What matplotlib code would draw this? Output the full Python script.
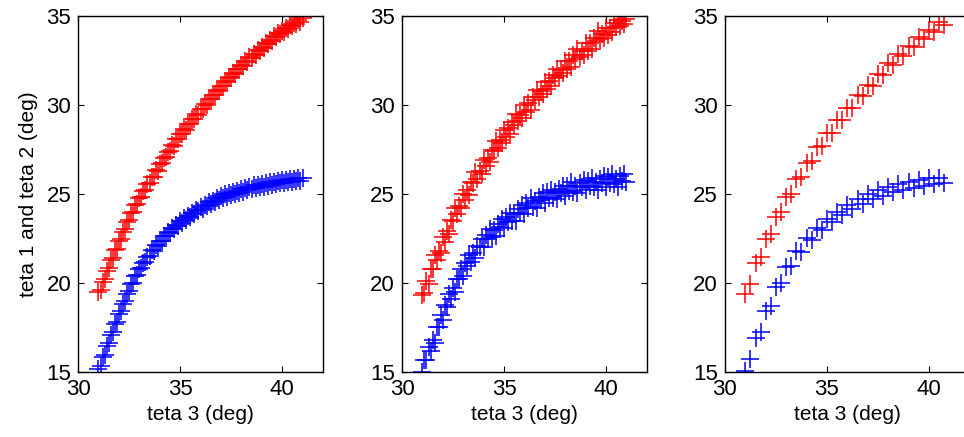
"""Three panels of teta 1 / teta 2 against teta 3, plus markers."""

import matplotlib
matplotlib.use("Agg")
import matplotlib.pyplot as plt

plt.rcParams["font.family"] = ["Liberation Sans", "DejaVu Sans"]

# dense runs (panels 1 and 2), teta 3 every 0.1 deg
teta3_dense = [31.0, 31.1, 31.2, 31.3, 31.4, 31.5, 31.6, 31.7, 31.8, 31.9,
               32.0, 32.1, 32.2, 32.3, 32.4, 32.5, 32.6, 32.7, 32.8, 32.9,
               33.0, 33.1, 33.2, 33.3, 33.4, 33.5, 33.6, 33.7, 33.8, 33.9,
               34.0, 34.1, 34.2, 34.3, 34.4, 34.5, 34.6, 34.7, 34.8, 34.9,
               35.0, 35.1, 35.2, 35.3, 35.4, 35.5, 35.6, 35.7, 35.8, 35.9,
               36.0, 36.1, 36.2, 36.3, 36.4, 36.5, 36.6, 36.7, 36.8, 36.9,
               37.0, 37.1, 37.2, 37.3, 37.4, 37.5, 37.6, 37.7, 37.8, 37.9,
               38.0, 38.1, 38.2, 38.3, 38.4, 38.5, 38.6, 38.7, 38.8, 38.9,
               39.0, 39.1, 39.2, 39.3, 39.4, 39.5, 39.6, 39.7, 39.8, 39.9,
               40.0, 40.1, 40.2, 40.3, 40.4, 40.5, 40.6, 40.7, 40.8, 40.9,
               41.0]

teta1_run1 = [19.48, 19.62, 20.08, 20.22, 20.68, 20.82, 21.28, 21.42, 21.83, 21.92,
              22.38, 22.47, 22.88, 23.02, 23.43, 23.52, 23.93, 23.97, 24.38, 24.42,
              24.78, 24.82, 25.18, 25.22, 25.58, 25.62, 25.98, 25.97, 26.33, 26.32,
              26.68, 26.72, 27.03, 27.07, 27.38, 27.42, 27.73, 27.72, 28.08, 28.07,
              28.38, 28.37, 28.68, 28.62, 28.93, 28.92, 29.23, 29.22, 29.48, 29.47,
              29.78, 29.77, 30.08, 30.02, 30.33, 30.32, 30.58, 30.57, 30.83, 30.82,
              31.08, 31.07, 31.33, 31.32, 31.58, 31.52, 31.78, 31.77, 32.03, 32.02,
              32.28, 32.22, 32.48, 32.42, 32.68, 32.62, 32.88, 32.82, 33.08, 33.02,
              33.28, 33.22, 33.48, 33.42, 33.68, 33.62, 33.88, 33.82, 34.03, 33.97,
              34.18, 34.12, 34.33, 34.27, 34.48, 34.42, 34.63, 34.57, 34.78, 34.67,
              34.88]
teta2_run1 = [15.18, 15.32, 15.83, 15.97, 16.48, 16.62, 17.08, 17.22, 17.68, 17.82,
              18.28, 18.42, 18.83, 18.97, 19.38, 19.52, 19.93, 19.97, 20.38, 20.42,
              20.78, 20.82, 21.13, 21.17, 21.48, 21.52, 21.83, 21.82, 22.13, 22.07,
              22.38, 22.37, 22.63, 22.62, 22.88, 22.82, 23.08, 23.02, 23.28, 23.22,
              23.48, 23.37, 23.63, 23.52, 23.78, 23.72, 23.93, 23.87, 24.08, 24.02,
              24.28, 24.17, 24.38, 24.32, 24.53, 24.42, 24.63, 24.57, 24.78, 24.67,
              24.88, 24.77, 24.98, 24.82, 25.03, 24.92, 25.13, 25.02, 25.18, 25.07,
              25.28, 25.12, 25.33, 25.22, 25.38, 25.27, 25.48, 25.32, 25.53, 25.42,
              25.58, 25.42, 25.63, 25.47, 25.68, 25.52, 25.68, 25.57, 25.73, 25.62,
              25.78, 25.62, 25.78, 25.67, 25.83, 25.67, 25.83, 25.72, 25.88, 25.72,
              25.88]

teta1_run2 = [19.35, 19.45, 20.1, 19.95, 20.8, 20.8, 21.55, 21.3, 21.8, 21.7,
              22.6, 22.3, 22.9, 22.75, 23.55, 23.5, 24.2, 23.85, 24.35, 24.2,
              25.0, 24.65, 25.2, 24.95, 25.7, 25.6, 26.25, 25.85, 26.3, 26.1,
              26.9, 26.55, 27.05, 26.8, 27.5, 27.4, 28.0, 27.6, 28.05, 27.85,
              28.6, 28.2, 28.7, 28.35, 29.05, 28.9, 29.5, 29.1, 29.45, 29.25,
              30.0, 29.6, 30.1, 29.75, 30.45, 30.3, 30.85, 30.45, 30.8, 30.6,
              31.3, 30.9, 31.35, 31.05, 31.7, 31.5, 32.05, 31.65, 32.0, 31.8,
              32.5, 32.05, 32.5, 32.15, 32.8, 32.6, 33.15, 32.7, 33.05, 32.8,
              33.5, 33.05, 33.5, 33.15, 33.8, 33.6, 34.15, 33.7, 34.0, 33.75,
              34.35, 33.95, 34.35, 34.1, 34.6, 34.4, 34.8, 34.45, 34.75, 34.55,
              34.85]
teta2_run2 = [15.0, 15.65, 15.65, 16.4, 16.2, 16.8, 16.65, 17.5, 17.55, 18.2,
              17.9, 18.75, 18.65, 19.4, 19.1, 19.7, 19.5, 20.25, 20.25, 20.8,
              20.4, 21.15, 20.95, 21.6, 21.2, 21.7, 21.4, 22.1, 22.0, 22.45,
              22.0, 22.7, 22.45, 23.05, 22.6, 23.0, 22.65, 23.3, 23.15, 23.6,
              23.1, 23.7, 23.45, 23.95, 23.5, 23.9, 23.5, 24.15, 23.95, 24.4,
              23.9, 24.5, 24.2, 24.75, 24.25, 24.6, 24.2, 24.85, 24.65, 25.05,
              24.5, 25.1, 24.8, 25.25, 24.75, 25.1, 24.7, 25.3, 25.05, 25.45,
              24.9, 25.45, 25.15, 25.65, 25.1, 25.45, 25.05, 25.6, 25.4, 25.8,
              25.2, 25.75, 25.45, 25.9, 25.4, 25.7, 25.25, 25.85, 25.6, 26.0,
              25.4, 25.95, 25.6, 26.1, 25.55, 25.85, 25.4, 26.0, 25.75, 26.1,
              25.7]

# sparse run (panel 3)
teta3_sparse = [31.0, 31.25, 31.5, 31.75, 32.0, 32.25, 32.5, 32.75, 33.0, 33.25,
                33.5, 33.75, 34.0, 34.25, 34.5, 34.75, 35.0, 35.25, 35.5, 35.75,
                36.0, 36.25, 36.5, 36.75, 37.0, 37.25, 37.5, 37.75, 38.0, 38.25,
                38.5, 38.75, 39.0, 39.25, 39.5, 39.75, 40.0, 40.25, 40.5, 40.75]
teta1_run3 = [19.4, 19.95, 21.1, 21.45, 22.45, 22.75, 23.7, 24.0, 24.85, 25.0,
              25.85, 25.95, 26.75, 26.85, 27.65, 27.7, 28.45, 28.45, 29.15, 29.15,
              29.85, 29.85, 30.55, 30.5, 31.15, 31.1, 31.75, 31.7, 32.35, 32.25,
              32.85, 32.75, 33.35, 33.25, 33.85, 33.7, 34.25, 34.1, 34.65, 34.5]
teta2_run3 = [15.05, 15.7, 16.9, 17.25, 18.4, 18.7, 19.8, 20.0, 20.9, 20.95,
              21.8, 21.75, 22.5, 22.4, 23.1, 22.95, 23.6, 23.4, 24.0, 23.8,
              24.4, 24.15, 24.7, 24.45, 25.0, 24.7, 25.2, 24.9, 25.4, 25.1,
              25.55, 25.25, 25.7, 25.35, 25.8, 25.45, 25.9, 25.55, 25.9, 25.6]

panels = [
    (teta3_dense, teta1_run1, teta2_run1),
    (teta3_dense, teta1_run2, teta2_run2),
    (teta3_sparse, teta1_run3, teta2_run3),
]
lefts = [0.081, 0.417, 0.752]


def main() -> None:
    fig = plt.figure(figsize=(9.64, 4.37), dpi=100)

    for i, (t3, t1, t2) in enumerate(panels):
        ax = fig.add_axes([lefts[i], 0.149, 0.254, 0.814])
        ax.plot(t3, t1, "+", color=(1, 0, 0), markersize=13, markeredgewidth=1.1)
        ax.plot(t3, t2, "+", color=(0, 0, 1), markersize=13, markeredgewidth=1.1)
        ax.set_xlim(30, 42)
        ax.set_ylim(15, 35)
        ax.set_xticks([30, 35, 40])
        ax.set_yticks([15, 20, 25, 30, 35])
        ax.tick_params(direction="in", top=True, right=True, length=4,
                       width=0.8, labelsize=16, pad=5)
        for s in ax.spines.values():
            s.set_linewidth(1.0)
        ax.set_xlabel("teta 3 (deg)", fontsize=15, labelpad=4)
        if i == 0:
            ax.set_ylabel("teta 1 and teta 2 (deg)", fontsize=15, labelpad=6)

    fig.savefig("out.png", dpi=100)


if __name__ == "__main__":
    main()
